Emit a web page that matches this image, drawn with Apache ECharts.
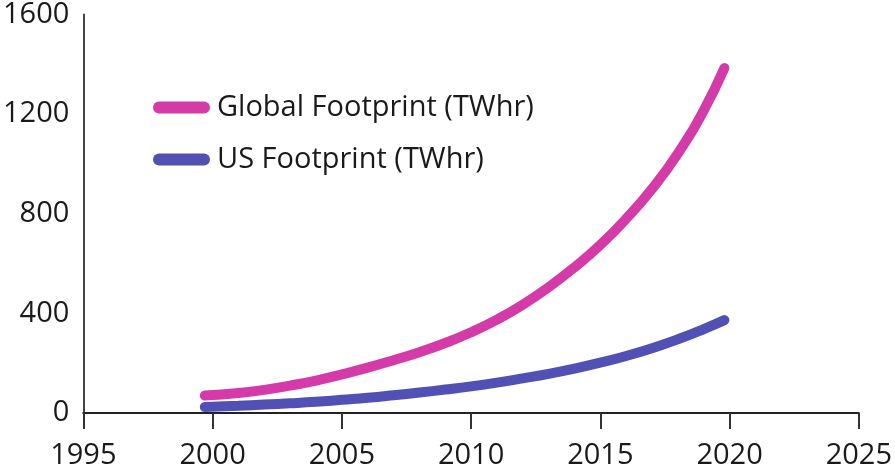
<!DOCTYPE html>
<html>
<head>
<meta charset="utf-8">
<script src="https://cdn.jsdelivr.net/npm/echarts@6/dist/echarts.min.js"></script>
<style>
html,body{margin:0;padding:0;background:#fff;}
#chart{width:895px;height:470px;}
</style>
</head>
<body>
<div id="chart"></div>
<script>
// Data
var years = [1999.7, 2001, 2002, 2003, 2004, 2005, 2006, 2007, 2008, 2009, 2010,
             2011, 2012, 2013, 2014, 2015, 2016, 2017, 2018, 2019, 2019.8];
var globalFootprint = [70, 80, 93, 110, 130, 155, 182, 212, 244, 281, 324,
                       375, 435, 505, 585, 675, 780, 900, 1042, 1215, 1385];
var usFootprint = [24, 29, 34, 39, 45, 53, 61, 71, 82, 94, 107,
                   122, 139, 157, 178, 202, 229, 260, 296, 337, 373];
var seriesNames = ['Global Footprint (TWhr)', 'US Footprint (TWhr)'];
var xTicks = [1995, 2000, 2005, 2010, 2015, 2020, 2025];
var yTicks = [0, 400, 800, 1200, 1600];

function pairs(xs, ys) { return xs.map(function (x, i) { return [x, ys[i]]; }); }

var FONT = '"Open Sans"';
var pill = 'path://M6,0 L51,0 A6,6 0 0 1 51,12 L6,12 A6,6 0 0 1 6,0 Z';

var chart = echarts.init(document.getElementById('chart'), null, {renderer: 'canvas'});
chart.setOption({
  animation: false,
  backgroundColor: '#ffffff',
  grid: {left: 83, right: 35, top: 10, bottom: 55, containLabel: false},
  legend: {
    orient: 'vertical',
    left: 148,
    top: 88,
    itemWidth: 57,
    itemHeight: 12,
    itemGap: 23,
    icon: pill,
    textStyle: {fontFamily: FONT, fontSize: 29, color: '#1a1a1a', padding: [0, 0, 0, 2]},
    data: seriesNames
  },
  xAxis: {
    type: 'value',
    min: xTicks[0],
    max: xTicks[xTicks.length - 1],
    interval: 5,
    axisLine: {show: true, lineStyle: {color: '#222', width: 2}},
    axisTick: {show: true, length: 16, inside: false, lineStyle: {color: '#333', width: 2}},
    splitLine: {show: false},
    axisLabel: {fontFamily: FONT, fontSize: 29, color: '#1a1a1a', margin: 28,
      formatter: function (v) { return String(v); }}
  },
  yAxis: {
    type: 'value',
    min: yTicks[0],
    max: yTicks[yTicks.length - 1],
    interval: 400,
    axisLine: {show: true, lineStyle: {color: '#444', width: 2}},
    axisTick: {show: false},
    splitLine: {show: false},
    axisLabel: {fontFamily: FONT, fontSize: 29, color: '#1a1a1a', margin: 14,
      formatter: function (v) { return String(v); }}
  },
  series: [
    {
      name: seriesNames[0],
      type: 'line',
      smooth: true,
      showSymbol: false,
      symbol: 'none',
      color: '#d43aa8',
      lineStyle: {width: 10, color: '#d43aa8', cap: 'round', join: 'round'},
      data: pairs(years, globalFootprint),
      z: 3
    },
    {
      name: seriesNames[1],
      type: 'line',
      smooth: true,
      showSymbol: false,
      symbol: 'none',
      color: '#5050b5',
      lineStyle: {width: 10, color: '#5050b5', cap: 'round', join: 'round'},
      data: pairs(years, usFootprint),
      z: 4
    }
  ]
});
</script>
</body>
</html>
